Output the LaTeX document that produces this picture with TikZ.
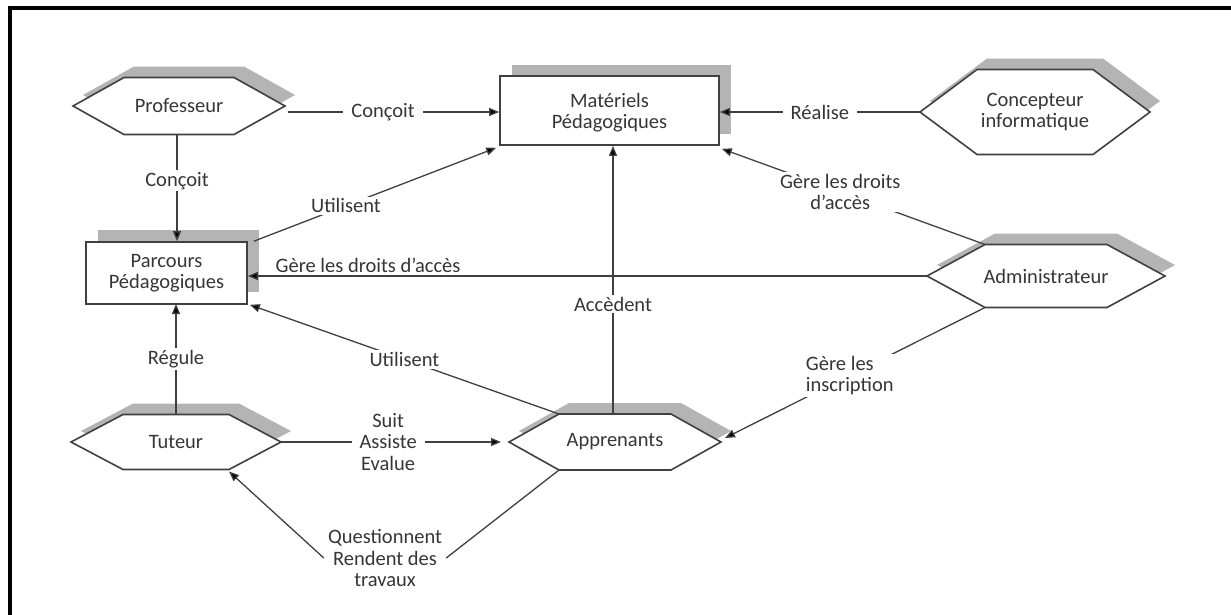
\documentclass[tikz,border=0pt]{standalone}
\usepackage{fontspec}
\setmainfont{Carlito}
\usetikzlibrary{arrows.meta}
\definecolor{ink}{HTML}{363636}
\definecolor{edge}{HTML}{404040}
\definecolor{shadowgray}{HTML}{B4B4B4}

\tikzset{
  txt/.style={text=ink, align=center, inner sep=0pt, font=\fontsize{20.5}{21.5}\selectfont},
  box/.style={draw=edge, line width=1.6pt, fill=white, inner sep=0pt},
  hexline/.style={draw=edge, line width=1.6pt, fill=white, line join=miter},
  shadowfill/.style={fill=shadowgray},
  conn/.style={draw=edge, line width=1.3pt},
  arr/.style={conn, -{Triangle[length=10pt,width=8pt,fill=black]}},
  lbl/.style={txt, fill=white, inner xsep=8pt, inner ysep=2pt},
}

% hexagon actor: name, centre x, centre y, half width, half flat side, half height, text
\newcommand\hexnode[7]{%
  \fill[shadowfill] (#2-#4+10,#3-11) -- (#2-#5+10,#3-#6-11) -- (#2+#5+10,#3-#6-11)
     -- (#2+#4+10,#3-11) -- (#2+#5+10,#3+#6-11) -- (#2-#5+10,#3+#6-11) -- cycle;
  \path[hexline] (#2-#4,#3) -- (#2-#5,#3-#6) -- (#2+#5,#3-#6)
     -- (#2+#4,#3) -- (#2+#5,#3+#6) -- (#2-#5,#3+#6) -- cycle;
  \node[txt] (#1) at (#2,#3) {#7};
  \coordinate (#1-l)  at (#2-#4,#3);
  \coordinate (#1-r)  at (#2+#4,#3);
  \coordinate (#1-tl) at (#2-#5,#3-#6);
  \coordinate (#1-tr) at (#2+#5,#3-#6);
  \coordinate (#1-bl) at (#2-#5,#3+#6);
  \coordinate (#1-br) at (#2+#5,#3+#6);
}

\begin{document}
\begin{tikzpicture}[x=1pt,y=-1pt]
\useasboundingbox (0,0) rectangle (1231,614);
\fill[white] (0,0) rectangle (1231,614);

% frame
\draw[line width=4pt] (10,616) -- (10,8) -- (1233,8);

% actors
\hexnode{prof}{179}{106}{106}{55}{28.5}{Professeur}
\hexnode{conc}{1035}{112}{115}{58}{42.5}{Concepteur\\informatique}
\hexnode{admin}{1046}{276}{119}{61}{31.5}{Administrateur}
\hexnode{tut}{176}{442}{105}{53}{27.5}{Tuteur}
\hexnode{appr}{615}{442}{106}{56}{28}{Apprenants}

% resources
\fill[shadowfill] (512,65) rectangle (731,134);
\node[box, minimum width=219pt, minimum height=69pt] (mat) at (609.5,110.5) {};
\node[txt] at ([yshift=-2pt]mat.center) {Matériels\\Pédagogiques};
\fill[shadowfill] (98,230) rectangle (259,292);
\node[box, minimum width=161pt, minimum height=62pt] (parc) at (166.5,273) {};
\node[txt] at (parc.center) {Parcours\\Pédagogiques};

% connector end points
\coordinate (profout) at (288,112);
\coordinate (apprtop) at (613,414);
\coordinate (parcin) at (176,304);
\coordinate (profdown) at (177,135);

% connectors
\draw[arr] (profout) -- node[lbl, pos=0.45] {Conçoit} (profout -| mat.west);
\draw[arr] (conc-l) -- node[lbl, pos=0.5] {Réalise} (conc-l -| mat.east);
\draw[arr] (profdown) -- node[lbl, pos=0.43] {Conçoit} (profdown |- parc.north);
\draw[arr] (parc.north east) ++(6,0) coordinate (parcne)
           (parcne) -- node[lbl, pos=0.38] {Utilisent} ([shift={(-3,2)}]mat.south west);
\draw[arr] (admin-l) -- (admin-l -| parc.east)
           node[txt, above right, pos=0.96, yshift=3pt] {Gère les droits d’accès};
\draw[arr] (admin-tl) -- node[lbl, pos=0.55] {Gère les droits\\d’accès} ([shift={(2,3)}]mat.south east);
\draw[arr] (apprtop) -- node[lbl, pos=0.41] {Accèdent} (apprtop |- mat.south);
\draw[arr] (tut.north |- tut-tl) -- node[lbl, pos=0.5] {Régule} (parcin);
\draw[arr] (appr-tl) -- node[lbl, pos=0.5] {Utilisent} ([shift={(2,0)}]parc.south east);
\draw[arr, shorten >=8pt] (tut-r) -- node[lbl, pos=0.47] {Suit\\Assiste\\Evalue} (appr-l);
\draw[arr] (admin-bl) -- node[lbl, pos=0.52, align=left] {Gère les\\inscription} ([shift={(4,-4)}]appr-r);
\node[lbl, inner xsep=4pt] (quest) at (385,558) {Questionnent\\Rendent des\\travaux};
\draw[conn] (appr-bl) -- (quest.east);
\draw[arr] (quest.west) -- ([shift={(0,2)}]tut-br);
\end{tikzpicture}
\end{document}
